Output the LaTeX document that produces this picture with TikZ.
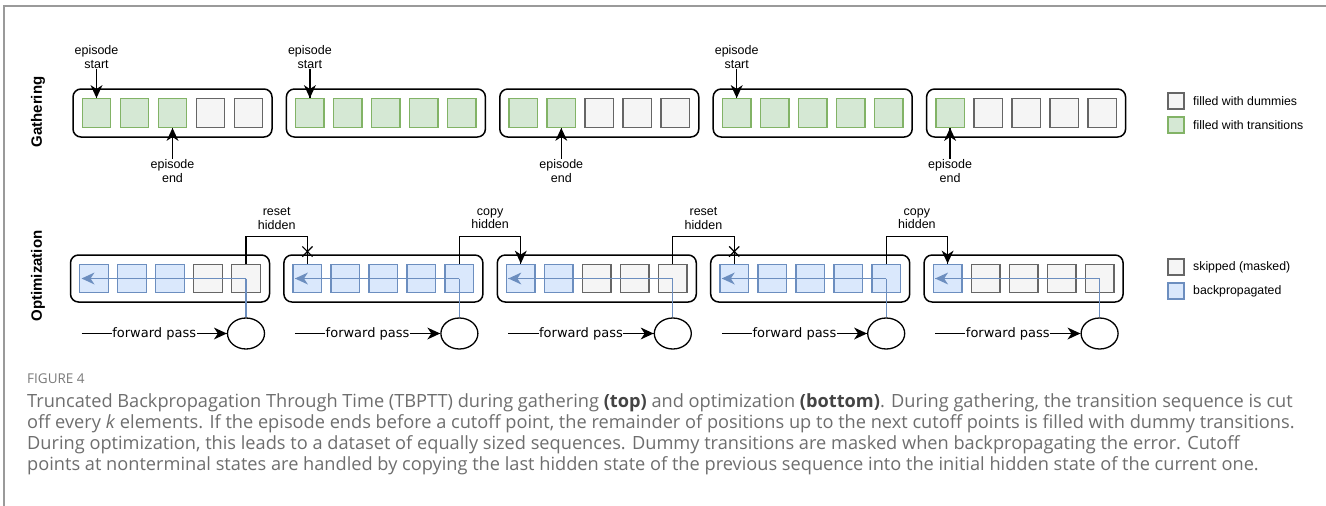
\documentclass[tikz,border=0pt]{standalone}
\usepackage{fontspec}
\setmainfont{Liberation Sans}
\newfontfamily\dvfont{DejaVu Sans}
\newfontfamily\capfont{Open Sans}
\usetikzlibrary{shapes.geometric,shapes.misc,calc,decorations.markings}
\definecolor{gfill}{HTML}{D5E8D4}
\definecolor{gdraw}{HTML}{82B366}
\definecolor{dfill}{HTML}{F5F5F5}
\definecolor{ddraw}{HTML}{666666}
\definecolor{bfill}{HTML}{DAE8FC}
\definecolor{bdraw}{HTML}{6C8EBF}
\definecolor{framecol}{HTML}{9A9A9A}
\definecolor{captxt}{HTML}{6E6E6E}
\definecolor{figcol}{HTML}{7A7A7A}
\definecolor{capbold}{HTML}{444444}
\tikzset{
  seqbox/.style={draw=black, line width=1.5pt, rounded corners=8pt, minimum width=199pt, minimum height=48pt, inner sep=0pt},
  sqbase/.style={line width=1.4pt, minimum size=28.5pt, inner sep=0pt},
  gsq/.style={sqbase, fill=gfill, draw=gdraw},
  dsq/.style={sqbase, fill=dfill, draw=ddraw},
  bsq/.style={sqbase, fill=bfill, draw=bdraw},
  lsq/.style={line width=1.3pt, minimum size=16pt, inner sep=0pt},
  lbl/.style={font=\fontsize{12.5}{13.5}\selectfont, align=center, inner sep=0.5pt},
  legtxt/.style={font=\fontsize{12.3}{14}\selectfont, anchor=west, inner sep=0pt},
  conn/.style={draw=black, line width=1.3pt},
  arr/.style={conn, postaction={decorate}, decoration={markings, mark=at position 1 with {\fill[black] (0pt,0pt) -- (-13pt,6pt) -- (-9pt,0pt) -- (-13pt,-6pt) -- cycle;}}},
  bl/.style={draw=bdraw, line width=1.3pt},
  blarr/.style={bl, postaction={decorate}, decoration={markings, mark=at position 1 with {\fill[bdraw] (0pt,0pt) -- (-13pt,6pt) -- (-9pt,0pt) -- (-13pt,-6pt) -- cycle;}}},
  ell/.style={ellipse, draw=black, line width=1.3pt, minimum width=37pt, minimum height=31pt, inner sep=0pt},
  fp/.style={font=\dvfont\fontsize{13}{15}\selectfont, fill=white, inner sep=0.6pt},
  side/.style={font=\bfseries\fontsize{15}{17}\selectfont, rotate=90, inner sep=0pt},
  captext/.style={font=\capfont\fontsize{18.2}{21}\selectfont, text=captxt, anchor=base west, inner sep=0pt},
  xmark/.style={cross out, draw=black, line width=1.2pt, minimum size=9pt, inner sep=0pt}
}
\begin{document}
\begin{tikzpicture}
\useasboundingbox (0pt,0pt) rectangle (1326pt,-506pt);
\fill[white] (0pt,0pt) rectangle (1326pt,-506pt);
\draw[framecol, line width=2pt] (4pt,-506pt) -- (4pt,-6pt) -- (1326pt,-6pt);

% side labels
\node[side] (gath) at (38pt,-112pt) {Gathering};
\node[side] (optm) at (38pt,-276pt) {Optimization};

% top row
\foreach \k/\n in {1/3,2/5,3/2,4/5,5/1}{
  \pgfmathsetmacro\L{73+213.4*(\k-1)}
  \pgfmathsetmacro\C{\L+99.5}
  \node[seqbox] (T\k) at (\C pt,-113pt) {};
  \foreach \j in {1,...,5}{
    \pgfmathsetmacro\X{\L+23.5+38*(\j-1)}
    \ifnum\j>\n
      \node[dsq] (t\k-\j) at (\X pt,-113pt) {};
    \else
      \node[gsq] (t\k-\j) at (\X pt,-113pt) {};
    \fi
  }
}

% bottom row
\foreach \k/\n in {1/3,2/5,3/2,4/5,5/1}{
  \pgfmathsetmacro\L{70.5+213.4*(\k-1)}
  \pgfmathsetmacro\C{\L+99.5}
  \node[seqbox, minimum height=47pt] (B\k) at (\C pt,-278.5pt) {};
  \foreach \j in {1,...,5}{
    \pgfmathsetmacro\X{\L+23.5+38*(\j-1)}
    \ifnum\j>\n
      \node[dsq] (b\k-\j) at (\X pt,-278.5pt) {};
    \else
      \node[bsq] (b\k-\j) at (\X pt,-278.5pt) {};
    \fi
  }
  \coordinate (h\k) at ($(b\k-1.west)+(2.5pt,0pt)$);
  \draw[blarr] (b\k-5.center) -- (h\k);
  \node[ell] (e\k) at ($(b\k-5.center)+(0pt,-55pt)$) {};
  \draw[bl] (b\k-5.center) -- (e\k.north);
  \coordinate (f\k) at ($(b\k-1.west)+(2.5pt,-55pt)$);
  \draw[arr] (f\k) -- node[fp, pos=0.5] (fpl\k) {forward pass} (e\k.west);
}

% episode annotations (top)
\node[lbl] (es1) at ($(t1-1.north)+(0pt,41pt)$) {episode\\start};
\draw[arr] (es1.south) -- (t1-1.north);
\node[lbl] (ee1) at ($(t1-3.south)+(0pt,-43pt)$) {episode\\end};
\draw[arr] (ee1.north) -- (t1-3.south);
\node[lbl] (es2) at ($(t2-1.north)+(0pt,41pt)$) {episode\\start};
\draw[arr] (es2.south) -- (t2-1.north);
\node[lbl] (ee3) at ($(t3-2.south)+(0pt,-43pt)$) {episode\\end};
\draw[arr] (ee3.north) -- (t3-2.south);
\node[lbl] (es4) at ($(t4-1.north)+(0pt,41pt)$) {episode\\start};
\draw[arr] (es4.south) -- (t4-1.north);
\node[lbl] (ee5) at ($(t5-1.south)+(0pt,-43pt)$) {episode\\end};
\draw[arr] (ee5.north) -- (t5-1.south);

% hidden state connections (bottom)
\draw[conn] (b1-5.north) -- ++(0pt,27pt) -| (b2-1.north);
\node[xmark] (x1) at ($(b2-1.north)+(0pt,12pt)$) {};
\node[lbl] (rh1) at ($(b1-5.north)!0.5!(b2-1.north)+(0pt,45pt)$) {reset\\hidden};

\draw[arr] (b2-5.north) -- ++(0pt,27pt) -| (b3-1.north);
\node[lbl] (ch1) at ($(b2-5.north)!0.5!(b3-1.north)+(0pt,45pt)$) {copy\\hidden};

\draw[conn] (b3-5.north) -- ++(0pt,27pt) -| (b4-1.north);
\node[xmark] (x2) at ($(b4-1.north)+(0pt,12pt)$) {};
\node[lbl] (rh2) at ($(b3-5.north)!0.5!(b4-1.north)+(0pt,45pt)$) {reset\\hidden};

\draw[arr] (b4-5.north) -- ++(0pt,27pt) -| (b5-1.north);
\node[lbl] (ch2) at ($(b4-5.north)!0.5!(b5-1.north)+(0pt,45pt)$) {copy\\hidden};

% legends
\node[lsq, fill=dfill, draw=ddraw] (lg1) at (1176pt,-101pt) {};
\node[legtxt] (lgt1) at (1193pt,-101pt) {filled with dummies};
\node[lsq, fill=gfill, draw=gdraw] (lg2) at (1176pt,-125pt) {};
\node[legtxt] (lgt2) at (1193pt,-125pt) {filled with transitions};
\node[lsq, fill=dfill, draw=ddraw] (lb1) at (1176pt,-267pt) {};
\node[legtxt] (lbt1) at (1193pt,-267pt) {skipped (masked)};
\node[lsq, fill=bfill, draw=bdraw] (lb2) at (1176pt,-291pt) {};
\node[legtxt] (lbt2) at (1193pt,-291pt) {backpropagated};

% caption
\node[captext, text=figcol, font=\capfont\fontsize{13.5}{15}\selectfont] (fig) at (27pt,-383pt) {FIGURE 4};
\node[captext] (c1) at (27pt,-407pt) {Truncated Backpropagation Through Time (TBPTT) during gathering \textcolor{capbold}{\textbf{(top)}} and optimization \textcolor{capbold}{\textbf{(bottom)}}. During gathering, the transition sequence is cut};
\node[captext] (c2) at (27pt,-428pt) {off every \textit{k} elements. If the episode ends before a cutoff point, the remainder of positions up to the next cutoff points is filled with dummy transitions.};
\node[captext] (c3) at (27pt,-449pt) {During optimization, this leads to a dataset of equally sized sequences. Dummy transitions are masked when backpropagating the error. Cutoff};
\node[captext] (c4) at (27pt,-470pt) {points at nonterminal states are handled by copying the last hidden state of the previous sequence into the initial hidden state of the current one.};
\end{tikzpicture}
\end{document}
